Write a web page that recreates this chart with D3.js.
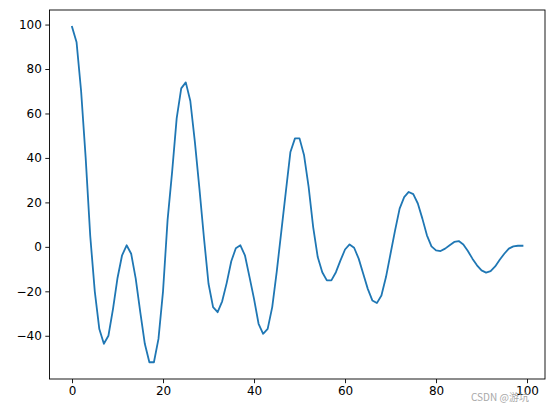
<!DOCTYPE html>
<html>
<head>
<meta charset="utf-8">
<script src="https://cdn.jsdelivr.net/npm/d3@7"></script>
<style>
  html, body { margin: 0; padding: 0; background: #fff; }
  svg { display: block; }
</style>
</head>
<body>
<svg id="chart" width="554" height="413"></svg>
<script>
const xValues = d3.range(100);
const yValues = [
  99, 92, 70, 40, 5, -20, -37, -43.6, -40, -28,
  -14, -3.8, 0.7, -3.1, -14.3, -29.4, -43.6, -51.9, -51.9, -41.4,
  -20, 12, 33.7, 57.8, 71.3, 74, 65.6, 47.2, 26.2, 4,
  -16.6, -27.1, -29.4, -24.5, -16.2, -6.5, -0.6, 0.7, -3.8, -13.5,
  -23.4, -34.6, -39.1, -36.9, -27.1, -11, 7, 25, 42.7, 48.8,
  48.8, 41.2, 27, 8.9, -4.6, -11.4, -15.1, -15.1, -11.4, -6.1,
  -1.2, 1.1, -0.4, -5.3, -12.1, -18.9, -24.1, -25.3, -21.9, -13.6,
  -3.1, 7.4, 17.2, 22.4, 24.7, 23.7, 19.5, 12.7, 5.2, 0.2,
  -1.6, -1.9, -0.8, 0.7, 2.2, 2.6, 1.1, -1.9, -5.3, -8.3,
  -10.6, -11.6, -10.9, -8.8, -5.8, -3.1, -0.8, 0.2, 0.5, 0.5
];
const xTicks = [0, 20, 40, 60, 80, 100];
const yTicks = [-40, -20, 0, 20, 40, 60, 80, 100];
const watermark = "CSDN @游坑";

const svg = d3.select("#chart");
const mLeft = 49.5, mRight = 545, mTop = 10, mBottom = 379;

const xMin = d3.min(xValues), xMax = d3.max(xValues);
const yMin = d3.min(yValues), yMax = d3.max(yValues);
const xPad = (xMax - xMin) * 0.05, yPad = (yMax - yMin) * 0.05;

const x = d3.scaleLinear().domain([xMin - xPad, xMax + xPad]).range([mLeft, mRight]);
const y = d3.scaleLinear().domain([yMin - yPad, yMax + yPad]).range([mBottom, mTop]);

const font = "DejaVu Sans, sans-serif";

const xAxis = svg.append("g")
  .attr("transform", `translate(0,${mBottom})`)
  .call(d3.axisBottom(x).tickValues(xTicks).tickSize(4.2).tickPadding(3.5).tickFormat(d3.format("d")));
const yAxis = svg.append("g")
  .attr("transform", `translate(${mLeft},0)`)
  .call(d3.axisLeft(y).tickValues(yTicks).tickSize(4.2).tickPadding(3.5).tickFormat(d => d < 0 ? "\u2212" + Math.abs(d) : d));

[xAxis, yAxis].forEach(g => {
  g.select(".domain").remove();
  g.selectAll(".tick line").attr("stroke", "#000").attr("stroke-width", 0.9);
  g.selectAll(".tick text").attr("fill", "#000").style("font-family", font).style("font-size", "12px");
});

// spines
svg.append("rect")
  .attr("x", mLeft).attr("y", mTop)
  .attr("width", mRight - mLeft).attr("height", mBottom - mTop)
  .attr("fill", "none").attr("stroke", "#000").attr("stroke-width", 0.9);

const line = d3.line().x((d, i) => x(xValues[i])).y(d => y(d));
svg.append("path")
  .datum(yValues)
  .attr("d", line)
  .attr("fill", "none")
  .attr("stroke", "#1f77b4")
  .attr("stroke-width", 1.8)
  .attr("stroke-linejoin", "round")
  .attr("stroke-linecap", "square");

svg.append("text")
  .attr("x", 471).attr("y", 401)
  .attr("fill", "#999")
  .attr("opacity", 0.85)
  .style("font-family", "Noto Sans CJK SC, DejaVu Sans, sans-serif")
  .style("font-size", "10px")
  .text(watermark);
</script>
</body>
</html>
